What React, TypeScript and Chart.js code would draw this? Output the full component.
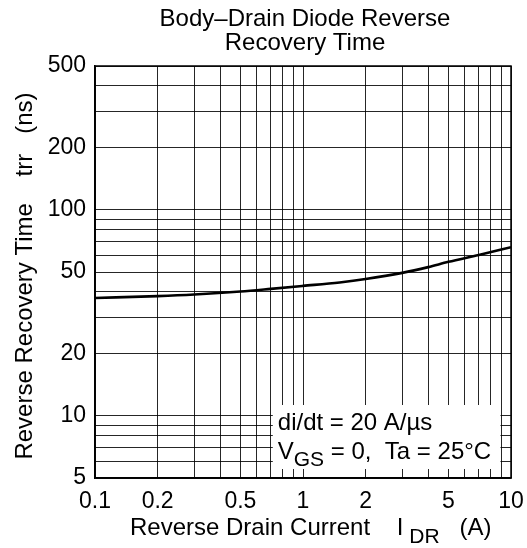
import React, { useEffect, useRef } from "react";
import { Chart, registerables } from "chart.js";

Chart.register(...registerables);

// ---- data ----
const currents = [0.1, 0.2, 0.3, 0.5, 0.7, 1, 1.5, 2, 3, 4, 5, 7, 10];
const recoveryTimes = [37.4, 38.2, 38.9, 40.2, 41.4, 42.8, 44.5, 46.2, 49.5, 52.8, 56, 60.5, 66];

const xGridValues = [0.1, 0.2, 0.3, 0.4, 0.5, 0.6, 0.7, 0.8, 0.9, 1, 2, 3, 4, 5, 6, 7, 8, 9, 10];
const yGridValues = [5, 6, 7, 8, 9, 10, 20, 30, 40, 50, 60, 70, 80, 90, 100, 200, 300, 400, 500];
const xTickLabels = [0.1, 0.2, 0.5, 1, 2, 5, 10];
const yTickLabels = [5, 10, 20, 50, 100, 200, 500];

const titleLines = ["Body\u2013Drain Diode Reverse", "Recovery Time"];
const xTitleParts = [
  { t: "Reverse Drain Current    I" },
  { t: " DR", sub: true },
  { t: "   (A)" },
];
const yTitleParts = [{ t: "Reverse Recovery Time    trr   (ns)" }];
const noteLine1 = [{ t: "di/dt = 20 A/\u00b5s" }];
const noteLine2 = [{ t: "V" }, { t: "GS", sub: true }, { t: " = 0,  Ta = 25\u00b0C" }];

const FONT = "'Liberation Sans', Arial, Helvetica, sans-serif";

type Part = { t: string; sub?: boolean };

function richWidth(ctx: CanvasRenderingContext2D, parts: Part[], size: number, subSize: number) {
  let w = 0;
  for (const p of parts) {
    ctx.font = `${p.sub ? subSize : size}px ${FONT}`;
    w += ctx.measureText(p.t).width;
  }
  return w;
}

function drawRich(
  ctx: CanvasRenderingContext2D,
  parts: Part[],
  x: number,
  y: number,
  size: number,
  subSize: number,
  subDy: number
) {
  let cx = x;
  ctx.textAlign = "left";
  ctx.textBaseline = "alphabetic";
  for (const p of parts) {
    ctx.font = `${p.sub ? subSize : size}px ${FONT}`;
    ctx.fillText(p.t, cx, p.sub ? y + subDy : y);
    cx += ctx.measureText(p.t).width;
  }
}

const decorPlugin = {
  id: "decor",
  afterDraw(chart: any) {
    const { ctx, chartArea: a, scales } = chart;
    const xs = scales.x;
    const ys = scales.y;
    ctx.save();
    ctx.fillStyle = "#000";

    // note box
    const boxL = xs.getPixelForValue(0.7) + 2;
    const boxR = xs.getPixelForValue(9) - 1;
    const boxT = a.bottom - 73;
    const boxB = a.bottom - 9;
    ctx.fillStyle = "#fff";
    ctx.fillRect(boxL, boxT, boxR - boxL, boxB - boxT);
    ctx.fillStyle = "#000";
    drawRich(ctx, noteLine1, boxL + 5, boxT + 25, 24, 21, 6);
    drawRich(ctx, noteLine2, boxL + 5, boxT + 54, 24, 21, 7);

    // frame
    ctx.strokeStyle = "#000";
    ctx.lineWidth = 1.5;
    ctx.strokeRect(a.left, a.top, a.right - a.left, a.bottom - a.top);

    // title
    ctx.font = `24px ${FONT}`;
    ctx.textAlign = "center";
    ctx.textBaseline = "alphabetic";
    const cx = (a.left + a.right) / 2;
    ctx.fillText(titleLines[0], cx + 2, 26);
    ctx.fillText(titleLines[1], cx + 2, 50);

    // tick labels
    ctx.font = `23px ${FONT}`;
    ctx.textAlign = "center";
    ctx.textBaseline = "middle";
    for (const v of xTickLabels) {
      ctx.fillText(String(v), xs.getPixelForValue(v), a.bottom + 24);
    }
    ctx.textAlign = "right";
    for (const v of yTickLabels) {
      ctx.fillText(String(v), a.left - 9, ys.getPixelForValue(v));
    }

    // x title
    drawRich(ctx, xTitleParts, a.left + 35, a.bottom + 57, 24, 21, 8);

    // y title
    ctx.save();
    ctx.translate(32, 276);
    ctx.rotate(-Math.PI / 2);
    const yw = richWidth(ctx, yTitleParts, 24, 21);
    drawRich(ctx, yTitleParts, -yw / 2, 0, 24, 21, 7);
    ctx.restore();

    ctx.restore();
  },
};

export default function App() {
  const ref = useRef<HTMLCanvasElement | null>(null);

  useEffect(() => {
    if (!ref.current) return;
    const points = currents.map((x, i) => ({ x, y: recoveryTimes[i] }));
    const gridColor = "rgba(0,0,0,0.85)";
    const chart = new Chart(ref.current, {
      type: "line",
      data: {
        datasets: [
          {
            data: points,
            borderColor: "#000",
            borderWidth: 2.6,
            pointRadius: 0,
            cubicInterpolationMode: "monotone",
            fill: false,
          },
        ],
      },
      options: {
        animation: false,
        responsive: false,
        devicePixelRatio: 1,
        layout: { padding: { left: 0, right: 16, top: 66, bottom: 0 } },
        plugins: {
          legend: { display: false },
          title: { display: false },
          tooltip: { enabled: false },
        },
        scales: {
          x: {
            type: "logarithmic",
            min: 0.1,
            max: 10,
            afterBuildTicks: (s: any) => {
              s.ticks = xGridValues.map((v) => ({ value: v }));
            },
            afterFit: (s: any) => {
              s.height = 70;
            },
            ticks: { display: false },
            grid: { color: gridColor, lineWidth: 1, drawTicks: false },
            border: { display: true, color: "#000", width: 1.5 },
          },
          y: {
            type: "logarithmic",
            min: 5,
            max: 500,
            afterBuildTicks: (s: any) => {
              s.ticks = yGridValues.map((v) => ({ value: v }));
            },
            afterFit: (s: any) => {
              s.width = 95;
            },
            ticks: { display: false },
            grid: { color: gridColor, lineWidth: 1, drawTicks: false },
            border: { display: true, color: "#000", width: 1.5 },
          },
        },
      },
      plugins: [decorPlugin],
    });
    return () => chart.destroy();
  }, []);

  return (
    <div style={{ position: "fixed", left: 0, top: 0, width: 527, height: 548, background: "#fff" }}>
      <canvas ref={ref} width={527} height={548} style={{ display: "block" }} />
    </div>
  );
}
